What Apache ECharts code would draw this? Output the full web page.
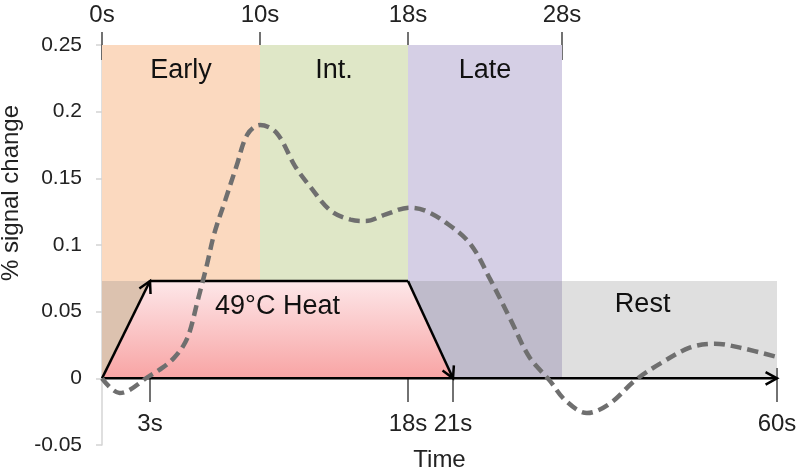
<!DOCTYPE html>
<html>
<head>
<meta charset="utf-8">
<script src="https://cdn.jsdelivr.net/npm/echarts@6/dist/echarts.min.js"></script>
<style>
html,body{margin:0;padding:0;background:#fff;}
#chart{width:800px;height:473px;}
</style>
</head>
<body>
<div id="chart"></div>
<script>
// ---- Data ----
// schematic time scale: landmark times (s) and their stretched positions on the axis
var timeMarks   = [0, 3, 10, 18, 21, 28, 60];
var timeStops   = [0, 48, 158, 306, 351, 460, 675];

var topTickTimes    = [0, 10, 18, 28];
var bottomTickTimes = [3, 18, 21, 60];

var phaseNames  = ['Early', 'Int.', 'Late'];
var phaseStarts = [0, 10, 18];
var phaseEnds   = [10, 18, 28];
var phaseTop    = 0.25;

var restName  = 'Rest';
var restStart = 0;
var restEnd   = 60;
var restLabelTime = 40;

var heatName  = '49\u00B0C Heat';
var heatTimes = [0, 3, 18, 21];
var heatLevel = 0.073;

var curveTimes  = [0, 1.1, 3, 3.8, 4.5, 5.1, 5.5, 6.05, 6.6, 7.1, 7.8, 8.5, 9.2, 10,
                   10.9, 11.9, 12.7, 13.8, 14.9, 15.7, 16.8, 18.1, 19.1, 20.5, 22.1,
                   23.4, 24.7, 25.9, 27.2, 28.5, 31.7, 35.1, 38.9, 42.6, 47, 50.7, 54.5, 60];
var curveValues = [0, -0.011, 0.002, 0.008, 0.015, 0.024, 0.034, 0.059, 0.084, 0.109, 0.134, 0.159, 0.183, 0.190,
                   0.184, 0.159, 0.144, 0.126, 0.119, 0.118, 0.123, 0.128, 0.126, 0.117, 0.101,
                   0.074, 0.044, 0.016, -0.0015, -0.0165, -0.026, -0.019, -0.0015, 0.011, 0.023, 0.026, 0.023, 0.016];

var yMin = -0.05, yMax = 0.25, yStep = 0.05;

// ---- helpers ----
function warp(t) {
  for (var i = 0; i < timeMarks.length - 1; i++) {
    if (t <= timeMarks[i + 1] || i === timeMarks.length - 2) {
      var f = (t - timeMarks[i]) / (timeMarks[i + 1] - timeMarks[i]);
      return timeStops[i] + f * (timeStops[i + 1] - timeStops[i]);
    }
  }
}
function labelFor(list) {
  return function (v) {
    var best = null, bd = 1e9;
    list.forEach(function (t) { var d = Math.abs(warp(t) - v); if (d < bd) { bd = d; best = t; } });
    return best + 's';
  };
}
function chevron(from, tip, len) {
  var a = Math.atan2(tip[1] - from[1], tip[0] - from[0]);
  var s = 0.5;
  return [
    [tip[0] - len * Math.cos(a - s), tip[1] - len * Math.sin(a - s)],
    tip,
    [tip[0] - len * Math.cos(a + s), tip[1] - len * Math.sin(a + s)]
  ];
}

var FONT = 'Liberation Sans, Arial, sans-serif';
var phaseColors = ['#fbd9bf', '#dfe7c7', '#d5cfe5'];

var phaseData = phaseNames.map(function (n, i) { return [warp(phaseStarts[i]), warp(phaseEnds[i]), i]; });

var option = {
  animation: false,
  backgroundColor: '#ffffff',
  grid: { left: 102, right: 23, top: 45, height: 400, containLabel: false, outerBoundsMode: 'none' },
  xAxis: [
    {
      type: 'value', position: 'bottom', min: 0, max: warp(60), offset: -77,
      name: 'Time', nameLocation: 'middle', nameGap: 80,
      nameTextStyle: { fontSize: 24, color: '#222', fontFamily: FONT },
      axisLine: { show: false, onZero: false },
      splitLine: { show: false },
      axisTick: { show: true, length: 34, customValues: bottomTickTimes.map(warp),
                  lineStyle: { color: '#444', width: 1.5 } },
      axisLabel: { customValues: bottomTickTimes.map(warp), formatter: labelFor(bottomTickTimes),
                   fontSize: 24, color: '#222', margin: 44, fontFamily: FONT }
    },
    {
      type: 'value', position: 'top', min: 0, max: warp(60), offset: -15,
      axisLine: { show: false, onZero: false },
      splitLine: { show: false },
      axisTick: { show: true, length: 28, customValues: topTickTimes.map(warp),
                  lineStyle: { color: '#444', width: 1.5 } },
      axisLabel: { customValues: topTickTimes.map(warp), formatter: labelFor(topTickTimes),
                   fontSize: 24, color: '#222', margin: 33, fontFamily: FONT }
    }
  ],
  yAxis: {
    type: 'value', min: yMin, max: yMax, interval: yStep,
    name: '% signal change', nameLocation: 'middle', nameGap: 76,
    nameTextStyle: { fontSize: 24, color: '#222', fontFamily: FONT, padding: [0, 0, 0, 104] },
    axisLine: { show: true, lineStyle: { color: '#d4d4d4', width: 1.5 } },
    axisTick: { show: true, length: 6, lineStyle: { color: '#d4d4d4', width: 1.5 } },
    splitLine: { show: false },
    axisLabel: { fontSize: 21, color: '#222', margin: 20, fontFamily: FONT }
  },
  series: [
    {
      type: 'custom', name: 'phases', z: 1, xAxisIndex: 0,
      encode: { x: [0, 1] },
      data: phaseData,
      renderItem: function (params, api) {
        var p0 = api.coord([api.value(0), phaseTop]);
        var p1 = api.coord([api.value(1), 0]);
        var i = api.value(2);
        return {
          type: 'group',
          children: [
            { type: 'rect', shape: { x: p0[0], y: p0[1], width: p1[0] - p0[0], height: p1[1] - p0[1] },
              style: { fill: phaseColors[i] } },
            { type: 'text', z2: 10, style: { text: phaseNames[i], x: (p0[0] + p1[0]) / 2, y: p0[1] + 26,
              align: 'center', verticalAlign: 'middle', fontSize: 27, fontFamily: FONT, fill: '#111' } }
          ]
        };
      }
    },
    {
      type: 'custom', name: 'rest', z: 2, xAxisIndex: 0,
      encode: { x: [0, 1] },
      data: [[warp(restStart), warp(restEnd), warp(restLabelTime)]],
      renderItem: function (params, api) {
        var p0 = api.coord([api.value(0), heatLevel]);
        var p1 = api.coord([api.value(1), 0]);
        var lx = api.coord([api.value(2), 0])[0];
        return {
          type: 'group',
          children: [
            { type: 'rect', shape: { x: p0[0], y: p0[1], width: p1[0] - p0[0], height: p1[1] - p0[1] },
              style: { fill: 'rgba(128,128,128,0.25)' } },
            { type: 'text', style: { text: restName, x: lx, y: p0[1] + 24,
              align: 'center', verticalAlign: 'middle', fontSize: 27, fontFamily: FONT, fill: '#111' } }
          ]
        };
      }
    },
    {
      type: 'custom', name: 'heat', z: 3, xAxisIndex: 0,
      encode: { x: [0, 1, 2, 3] },
      data: [heatTimes.map(warp)],
      renderItem: function (params, api) {
        var a = api.coord([api.value(0), 0]);
        var b = api.coord([api.value(1), heatLevel]);
        var c = api.coord([api.value(2), heatLevel]);
        var d = api.coord([api.value(3), 0]);
        var end = api.coord([warp(60), 0]);
        var lw = 2.5;
        return {
          type: 'group',
          children: [
            { type: 'polygon', shape: { points: [a, b, c, d] },
              style: { fill: new echarts.graphic.LinearGradient(0, 0, 0, 1, [
                { offset: 0, color: '#fde7e9' }, { offset: 1, color: '#f8a4a4' }]) } },
            { type: 'polyline', shape: { points: [a, end] }, style: { stroke: '#000', lineWidth: lw, fill: null } },
            { type: 'polyline', shape: { points: chevron(a, end, 13) }, style: { stroke: '#000', lineWidth: lw, fill: null } },
            { type: 'polyline', shape: { points: [a, b] }, style: { stroke: '#000', lineWidth: lw, fill: null } },
            { type: 'polyline', shape: { points: chevron(a, b, 13) }, style: { stroke: '#000', lineWidth: lw, fill: null } },
            { type: 'polyline', shape: { points: [b, c] }, style: { stroke: '#000', lineWidth: lw, fill: null } },
            { type: 'polyline', shape: { points: [c, d] }, style: { stroke: '#000', lineWidth: lw, fill: null } },
            { type: 'polyline', shape: { points: chevron(c, d, 13) }, style: { stroke: '#000', lineWidth: lw, fill: null } },
            { type: 'text', style: { text: heatName, x: (a[0] + d[0]) / 2, y: b[1] + 26,
              align: 'center', verticalAlign: 'middle', fontSize: 27, fontFamily: FONT, fill: '#111' } }
          ]
        };
      }
    },
    {
      type: 'line', name: 'signal', z: 5, xAxisIndex: 0,
      data: curveTimes.map(function (t, i) { return [warp(t), curveValues[i]]; }),
      smooth: 0.35, showSymbol: false, symbol: 'none',
      lineStyle: { color: '#6f6f6f', width: 4.5, type: [11, 6], cap: 'butt' }
    }
  ]
};

var chart = echarts.init(document.getElementById('chart'));
chart.setOption(option);
</script>
</body>
</html>
